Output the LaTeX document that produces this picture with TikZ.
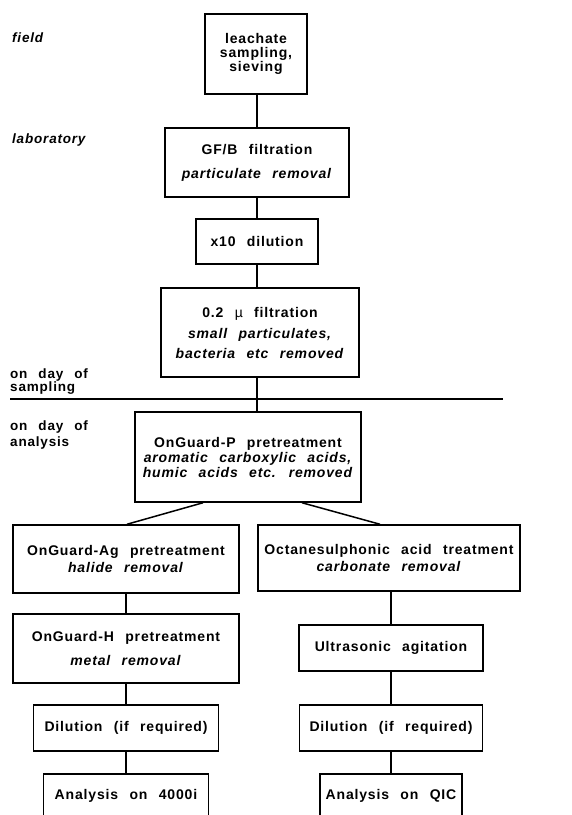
\documentclass[tikz,border=0pt]{standalone}
\usepackage{fontspec}
\newfontfamily\figfont[LetterSpace=6,WordSpace=2.4]{Liberation Sans}
\usetikzlibrary{positioning,calc}
\newcommand{\rmv}[1]{\textit{#1}}
\tikzset{
  stage/.style={draw=black,line width=1.5pt,align=center,inner sep=2pt,
    font=\figfont\bfseries\fontsize{14}{15}\selectfont},
  phase/.style={anchor=west,align=left,inner sep=0pt,
    font=\figfont\bfseries\fontsize{13.5}{13}\selectfont},
  link/.style={draw=black,line width=1.5pt}
}
\begin{document}
\begin{tikzpicture}[x=1pt,y=-1pt]
\useasboundingbox (0,0) rectangle (572,815);
\clip (0,0) rectangle (572,815);
% phases
\node[phase,font=\figfont\bfseries\itshape\fontsize{13.5}{13}\selectfont] (field) at (12,38) {field};
\node[phase,font=\figfont\bfseries\itshape\fontsize{13.5}{13}\selectfont] (lab) at (12,140) {laboratory};
\node[phase] (sampday) at (10,382) {on day of\\sampling};
\node[phase] (anaday) at (10,435) {on day of\\[3pt]analysis};
\coordinate (divL) at (10,399);
\coordinate (divR) at (503,399);
\draw[link] (divL) -- (divR);
% trunk
\node[stage,minimum width=102pt,minimum height=80pt] (leach) at (256,54) {leachate\\[-1pt]sampling,\\[-1pt]sieving};
\node[stage,minimum width=184pt,minimum height=69pt] (gfb) at (257,162.5) {GF/B filtration\\[9pt]\rmv{particulate removal}};
\node[stage,minimum width=122pt,minimum height=45pt] (dil) at (257,241.5) {x10 dilution};
\node[stage,minimum width=198pt,minimum height=89pt] (micro) at (260,332.5) {0.2 {\mdseries µ} filtration\\[6pt]\rmv{small particulates,}\\[5pt]\rmv{bacteria etc removed}};
\node[stage,minimum width=226pt,minimum height=90pt] (ogp) at (248,457) {OnGuard-P pretreatment\\\rmv{aromatic carboxylic acids,}\\\rmv{humic acids etc. removed}};
% left branch
\node[stage,minimum width=226pt,minimum height=68pt] (ogag) at (126,559) {OnGuard-Ag pretreatment\\[2pt]\rmv{halide removal}};
\node[stage,minimum width=226pt,minimum height=69pt] (ogh) at (126,648.5) {OnGuard-H pretreatment\\[9pt]\rmv{metal removal}};
\node[stage,minimum width=185pt,minimum height=46pt] (dilL) at (126,728) {Dilution (if required)};
\node[stage,anchor=north,minimum width=165pt,text height=24pt,text depth=40pt] (anaL) at (126,773) {Analysis on 4000i};
% right branch
\node[stage,minimum width=262pt,minimum height=66pt] (octa) at (389,558) {Octanesulphonic acid treatment\\[2pt]\rmv{carbonate removal}};
\node[stage,minimum width=184pt,minimum height=46pt] (ultra) at (391,648) {Ultrasonic agitation};
\node[stage,minimum width=183pt,minimum height=46pt] (dilR) at (391,728) {Dilution (if required)};
\node[stage,anchor=north,minimum width=142pt,text height=24pt,text depth=40pt] (anaR) at (391,773) {Analysis on QIC};
% connectors
\draw[link] (gfb.north |- leach.south) -- (gfb.north);
\draw[link] (gfb.south) -- (gfb.south |- dil.north);
\draw[link] (dil.south) -- (dil.south |- micro.north);
\draw[link] (dil.south |- micro.south) -- (dil.south |- ogp.north);
\draw[link] ([xshift=-45pt]ogp.south) -- ([xshift=1pt]ogag.north);
\draw[link] ([xshift=54pt]ogp.south) -- ([xshift=-9pt]octa.north);
\draw[link] (ogag.south) -- (ogag.south |- ogh.north);
\draw[link] (ogh.south) -- (ogh.south |- dilL.north);
\draw[link] (dilL.south) -- (dilL.south |- anaL.north);
\draw[link] (ultra.north |- octa.south) -- (ultra.north);
\draw[link] (ultra.south) -- (ultra.south |- dilR.north);
\draw[link] (dilR.south) -- (dilR.south |- anaR.north);
\end{tikzpicture}
\end{document}
